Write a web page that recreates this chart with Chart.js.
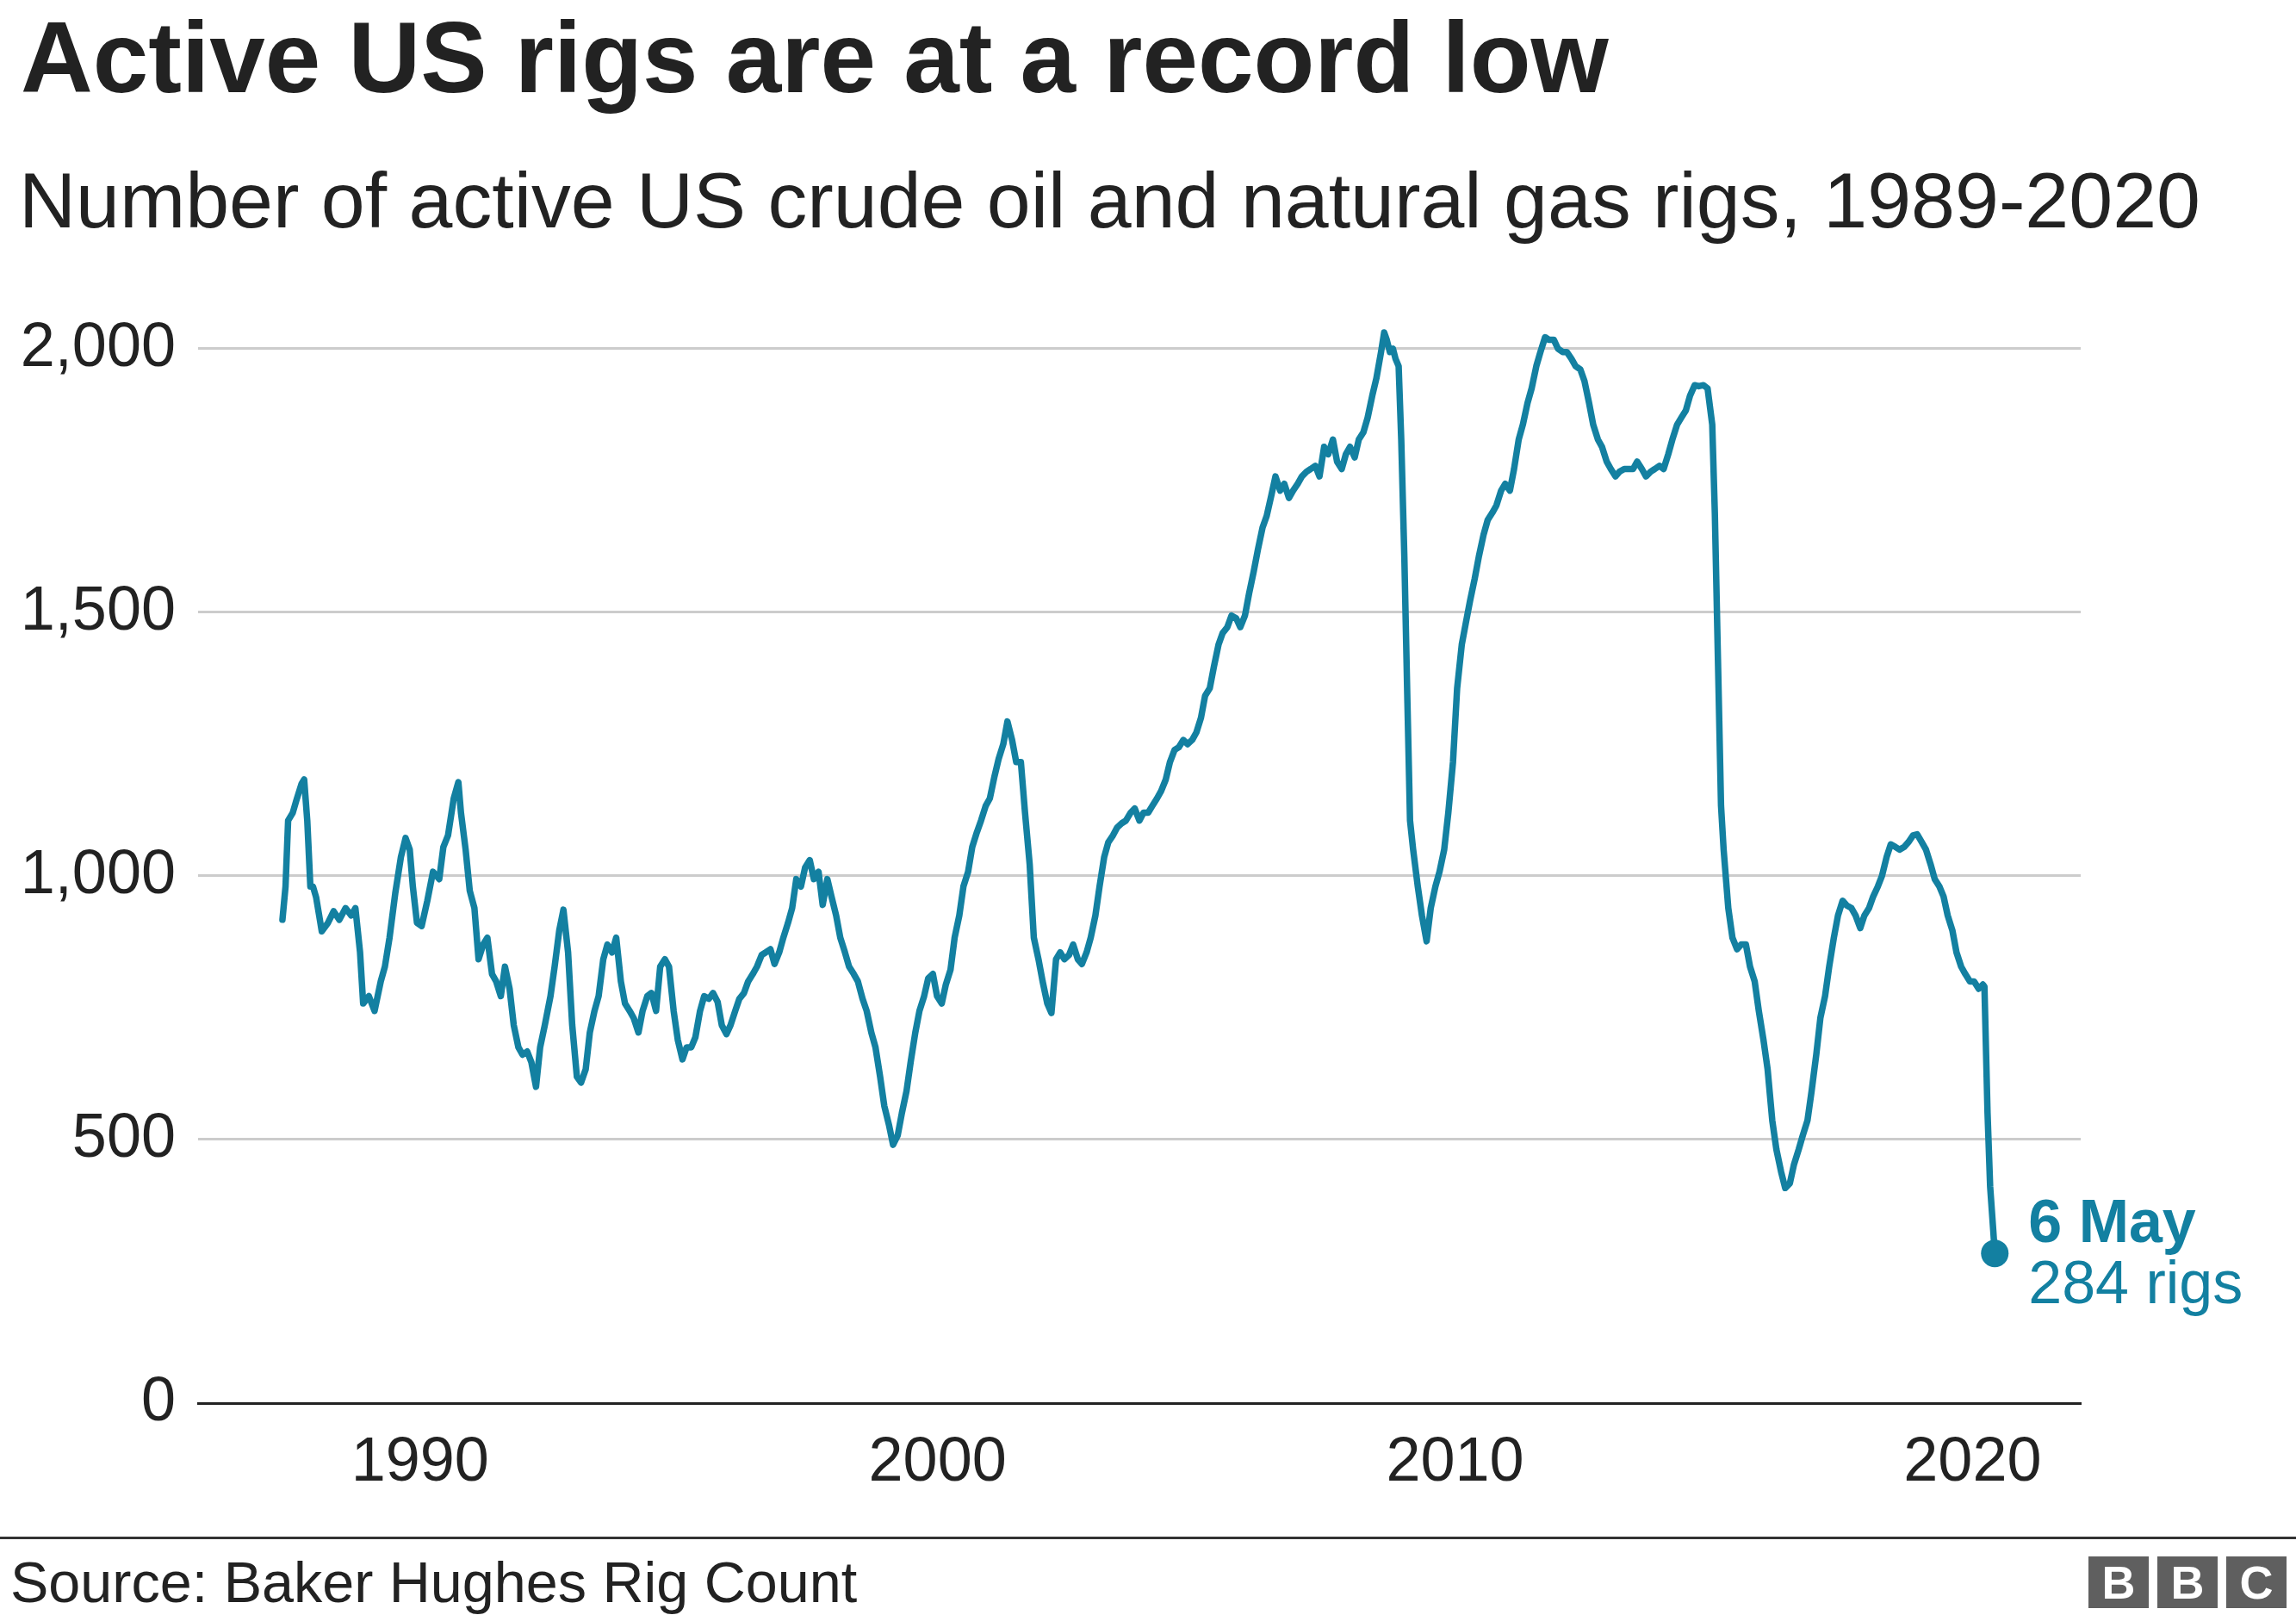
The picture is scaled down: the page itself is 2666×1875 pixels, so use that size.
<!DOCTYPE html>
<html>
<head>
<meta charset="utf-8">
<title>Active US rigs are at a record low</title>
<script src="https://cdn.jsdelivr.net/npm/chart.js@4.4.1/dist/chart.umd.min.js"></script>
<style>
    html, body { margin: 0; padding: 0; background: #fff; }
    body {
        width: 2666px; height: 1875px; position: relative; overflow: hidden;
        font-family: "Liberation Sans", Arial, Helvetica, sans-serif; color: #222;
    }
    #chartWrap { position: absolute; left: 0; top: 0; width: 2666px; height: 1875px; }
    .txt { position: absolute; line-height: 1; white-space: nowrap; }
    #title { left: 24px; top: 9px; font-size: 116px; font-weight: bold; color: #222; }
    #subtitle { left: 22px; top: 187px; font-size: 91.5px; color: #222; }
    #rule { position: absolute; left: 0; top: 1784px; width: 2666px; height: 3px; background: #333; }
    #source { left: 12px; top: 1804px; font-size: 66.5px; color: #222; }
    #bbc { position: absolute; left: 2425px; top: 1807px; display: flex; gap: 10px; }
    #bbc span {
        display: block; width: 70px; height: 60px; background: #5f5f5f; color: #fff;
        font-weight: bold; font-size: 54px; line-height: 60px; text-align: center;
    }
</style>
</head>
<body>
<div id="chartWrap"><canvas id="rigChart"></canvas></div>
<div id="title" class="txt">Active US rigs are at a record low</div>
<div id="subtitle" class="txt">Number of active US crude oil and natural gas rigs, 1989-2020</div>
<div id="rule"></div>
<div id="source" class="txt">Source: Baker Hughes Rig Count</div>
<div id="bbc"><span>B</span><span>B</span><span>C</span></div>

<script>
// weekly rig count (decimal years)
const years = [
    1987.34, 1987.40, 1987.45, 1987.54, 1987.62, 1987.71, 1987.76, 1987.82, 1987.88, 1987.93,
    1987.99, 1988.05, 1988.10, 1988.22, 1988.33, 1988.44, 1988.56, 1988.67, 1988.75, 1988.84,
    1988.90, 1989.01, 1989.12, 1989.24, 1989.32, 1989.41, 1989.52, 1989.63, 1989.72, 1989.80,
    1989.86, 1989.94, 1990.03, 1990.14, 1990.25, 1990.37, 1990.45, 1990.54, 1990.65, 1990.74,
    1990.79, 1990.88, 1990.96, 1991.05, 1991.13, 1991.22, 1991.30, 1991.39, 1991.47, 1991.56,
    1991.64, 1991.73, 1991.81, 1991.90, 1991.98, 1992.07, 1992.15, 1992.24, 1992.32, 1992.41,
    1992.52, 1992.60, 1992.69, 1992.77, 1992.86, 1992.94, 1993.03, 1993.11, 1993.20, 1993.28,
    1993.37, 1993.45, 1993.54, 1993.62, 1993.71, 1993.79, 1993.88, 1993.96, 1994.05, 1994.13,
    1994.22, 1994.30, 1994.39, 1994.47, 1994.56, 1994.64, 1994.73, 1994.81, 1994.90, 1994.98,
    1995.07, 1995.15, 1995.24, 1995.32, 1995.41, 1995.49, 1995.58, 1995.66, 1995.75, 1995.83,
    1995.92, 1996.00, 1996.09, 1996.17, 1996.26, 1996.34, 1996.43, 1996.51, 1996.60, 1996.68,
    1996.77, 1996.85, 1996.94, 1997.02, 1997.11, 1997.19, 1997.27, 1997.36, 1997.44, 1997.53,
    1997.61, 1997.70, 1997.78, 1997.87, 1997.95, 1998.04, 1998.12, 1998.21, 1998.29, 1998.38,
    1998.46, 1998.55, 1998.63, 1998.72, 1998.80, 1998.89, 1998.97, 1999.06, 1999.14, 1999.23,
    1999.31, 1999.40, 1999.48, 1999.57, 1999.65, 1999.74, 1999.82, 1999.91, 1999.99, 2000.08,
    2000.16, 2000.25, 2000.33, 2000.42, 2000.50, 2000.59, 2000.67, 2000.76, 2000.84, 2000.93,
    2001.01, 2001.10, 2001.18, 2001.27, 2001.35, 2001.44, 2001.52, 2001.61, 2001.69, 2001.78,
    2001.86, 2001.95, 2002.03, 2002.12, 2002.20, 2002.29, 2002.37, 2002.45, 2002.54, 2002.62,
    2002.71, 2002.79, 2002.88, 2002.96, 2003.05, 2003.13, 2003.22, 2003.30, 2003.39, 2003.47,
    2003.56, 2003.64, 2003.73, 2003.81, 2003.90, 2003.98, 2004.07, 2004.15, 2004.24, 2004.32,
    2004.41, 2004.49, 2004.58, 2004.66, 2004.75, 2004.83, 2004.92, 2005.00, 2005.09, 2005.17,
    2005.26, 2005.34, 2005.43, 2005.51, 2005.60, 2005.68, 2005.77, 2005.85, 2005.94, 2006.02,
    2006.11, 2006.19, 2006.28, 2006.36, 2006.45, 2006.53, 2006.62, 2006.70, 2006.79, 2006.87,
    2006.96, 2007.04, 2007.13, 2007.21, 2007.30, 2007.38, 2007.47, 2007.55, 2007.64, 2007.72,
    2007.81, 2007.89, 2007.97, 2008.06, 2008.14, 2008.23, 2008.31, 2008.40, 2008.48, 2008.57,
    2008.63, 2008.68, 2008.74, 2008.80, 2008.85, 2008.91, 2008.96, 2009.02, 2009.08, 2009.13,
    2009.19, 2009.28, 2009.36, 2009.45, 2009.53, 2009.62, 2009.70, 2009.79, 2009.87, 2009.96,
    2010.04, 2010.13, 2010.21, 2010.29, 2010.38, 2010.46, 2010.55, 2010.63, 2010.72, 2010.80,
    2010.89, 2010.97, 2011.06, 2011.14, 2011.23, 2011.31, 2011.40, 2011.48, 2011.57, 2011.65,
    2011.74, 2011.82, 2011.91, 2011.99, 2012.08, 2012.16, 2012.25, 2012.33, 2012.42, 2012.50,
    2012.59, 2012.67, 2012.76, 2012.84, 2012.93, 2013.01, 2013.10, 2013.18, 2013.27, 2013.35,
    2013.44, 2013.52, 2013.61, 2013.69, 2013.78, 2013.86, 2013.95, 2014.03, 2014.12, 2014.20,
    2014.29, 2014.37, 2014.46, 2014.54, 2014.63, 2014.71, 2014.80, 2014.88, 2014.97, 2015.02,
    2015.08, 2015.14, 2015.19, 2015.28, 2015.36, 2015.45, 2015.53, 2015.62, 2015.70, 2015.79,
    2015.87, 2015.96, 2016.04, 2016.13, 2016.21, 2016.30, 2016.38, 2016.47, 2016.55, 2016.64,
    2016.72, 2016.81, 2016.89, 2016.98, 2017.06, 2017.15, 2017.23, 2017.32, 2017.40, 2017.49,
    2017.57, 2017.66, 2017.74, 2017.83, 2017.91, 2018.00, 2018.08, 2018.17, 2018.25, 2018.34,
    2018.42, 2018.51, 2018.59, 2018.68, 2018.76, 2018.85, 2018.93, 2019.02, 2019.10, 2019.19,
    2019.27, 2019.36, 2019.44, 2019.52, 2019.61, 2019.69, 2019.78, 2019.86, 2019.95, 2020.03,
    2020.12, 2020.20, 2020.23, 2020.29, 2020.34, 2020.40, 2020.43
];

const rigs = [
    917, 980, 1105, 1120, 1147, 1175, 1183, 1105, 980, 980,
    960, 925, 895, 911, 933, 917, 939, 925, 939, 855,
    758, 772, 744, 800, 828, 883, 967, 1036, 1072, 1050,
    980, 911, 905, 953, 1008, 994, 1055, 1077, 1147, 1178,
    1120, 1050, 972, 939, 842, 870, 883, 814, 800, 772,
    828, 786, 717, 675, 661, 667, 647, 600, 675, 717,
    772, 828, 897, 936, 855, 717, 619, 608, 633, 703,
    744, 772, 842, 870, 855, 883, 800, 758, 744, 730,
    703, 744, 772, 778, 744, 828, 842, 828, 744, 689,
    652, 675, 675, 694, 744, 772, 767, 778, 761, 717,
    700, 717, 744, 767, 778, 800, 814, 828, 850, 855,
    861, 833, 855, 883, 911, 939, 994, 980, 1016, 1030,
    994, 1008, 945, 994, 961, 925, 883, 855, 828, 814,
    800, 767, 744, 703, 675, 619, 564, 528, 490, 508,
    550, 592, 647, 703, 744, 772, 806, 814, 772, 758,
    794, 822, 883, 925, 980, 1008, 1055, 1083, 1105, 1133,
    1147, 1189, 1222, 1250, 1293, 1258, 1216, 1216, 1120, 1022,
    883, 842, 800, 758, 740, 842, 855, 842, 850, 870,
    842, 833, 855, 883, 925, 980, 1036, 1064, 1077, 1092,
    1100, 1105, 1120, 1128, 1105, 1120, 1120, 1133, 1147, 1161,
    1183, 1216, 1239, 1244, 1258, 1250, 1258, 1272, 1300, 1342,
    1356, 1397, 1439, 1461, 1472, 1494, 1489, 1472, 1494, 1536,
    1578, 1619, 1661, 1683, 1722, 1758, 1731, 1744, 1717, 1731,
    1744, 1758, 1767, 1772, 1778, 1758, 1814, 1800, 1828, 1786,
    1772, 1800, 1814, 1794, 1828, 1842, 1869, 1911, 1944, 1994,
    2031, 2017, 1994, 2000, 1981, 1967, 1828, 1606, 1328, 1105,
    1050, 980, 925, 876, 939, 980, 1008, 1050, 1120, 1216,
    1356, 1439, 1481, 1522, 1564, 1606, 1647, 1675, 1689, 1703,
    1731, 1744, 1731, 1772, 1828, 1856, 1897, 1925, 1967, 1994,
    2022, 2017, 2017, 2000, 1994, 1994, 1981, 1967, 1961, 1939,
    1897, 1856, 1828, 1814, 1786, 1772, 1758, 1767, 1772, 1772,
    1772, 1786, 1772, 1758, 1767, 1772, 1778, 1772, 1800, 1828,
    1856, 1869, 1883, 1911, 1931, 1929, 1931, 1925, 1856, 1689,
    1411, 1133, 1050, 939, 883, 861, 870, 870, 828, 800,
    744, 689, 633, 536, 481, 439, 408, 417, 453, 481,
    508, 536, 592, 661, 731, 772, 828, 883, 925, 953,
    944, 939, 925, 901, 925, 939, 961, 980, 1000, 1036,
    1060, 1055, 1050, 1055, 1064, 1077, 1079, 1064, 1050, 1022,
    994, 980, 961, 925, 897, 855, 828, 814, 800, 800,
    786, 794, 790, 550, 411, 328, 284
];

const yTicks = [0, 500, 1000, 1500, 2000];
const xTicks = [1990, 2000, 2010, 2020];
const endDate = '6 May';

const lineColour = '#1380A1';
const fontFamily = '"Liberation Sans", Arial, Helvetica, sans-serif';

const points = years.map((y, i) => ({ x: y, y: rigs[i] }));
const lastIndex = points.length - 1;

// label beside the final point
const endLabel = {
    id: 'endLabel',
    afterDatasetsDraw(chart) {
        const meta = chart.getDatasetMeta(0);
        const pt = meta.data[lastIndex];
        const ctx = chart.ctx;
        ctx.save();
        ctx.fillStyle = lineColour;
        ctx.textAlign = 'left';
        ctx.textBaseline = 'alphabetic';
        ctx.font = 'bold 70px ' + fontFamily;
        ctx.fillText(endDate, pt.x + 39, pt.y - 13);
        ctx.font = '70px ' + fontFamily;
        ctx.fillText(rigs[lastIndex] + ' rigs', pt.x + 39, pt.y + 58);
        ctx.restore();
    }
};

new Chart(document.getElementById('rigChart'), {
    type: 'line',
    data: {
        datasets: [{
            data: points,
            borderColor: lineColour,
            backgroundColor: lineColour,
            borderWidth: 7.5,
            borderJoinStyle: 'round',
            borderCapStyle: 'round',
            tension: 0,
            fill: false,
            pointRadius: ctx => ctx.dataIndex === lastIndex ? 16 : 0,
            pointHoverRadius: 0,
            pointBorderWidth: 0,
            clip: false
        }]
    },
    options: {
        responsive: true,
        maintainAspectRatio: false,
        devicePixelRatio: 1,
        animation: false,
        events: [],
        layout: { padding: { top: 356, right: 250, bottom: 0, left: 0 } },
        plugins: {
            legend: { display: false },
            tooltip: { enabled: false }
        },
        scales: {
            x: {
                type: 'linear',
                min: 1985.71,
                max: 2022.09,
                afterBuildTicks: scale => { scale.ticks = xTicks.map(v => ({ value: v })); },
                afterFit: scale => { scale.height = 246; },
                grid: { display: false, drawTicks: false },
                border: { display: true, color: '#222', width: 3 },
                ticks: {
                    padding: 27,
                    maxRotation: 0,
                    color: '#222',
                    font: { family: fontFamily, size: 72 },
                    callback: v => String(v)
                }
            },
            y: {
                min: 0,
                max: 2080,
                afterBuildTicks: scale => { scale.ticks = yTicks.map(v => ({ value: v })); },
                afterFit: scale => { scale.width = 230; },
                grid: {
                    drawTicks: false,
                    lineWidth: 3,
                    color: ctx => ctx.tick && ctx.tick.value === 0 ? 'rgba(0,0,0,0)' : '#cccccc'
                },
                border: { display: false },
                ticks: {
                    padding: 26,
                    color: '#222',
                    font: { family: fontFamily, size: 72 },
                    callback: v => v.toLocaleString('en-US')
                }
            }
        }
    },
    plugins: [endLabel]
});
</script>
</body>
</html>
